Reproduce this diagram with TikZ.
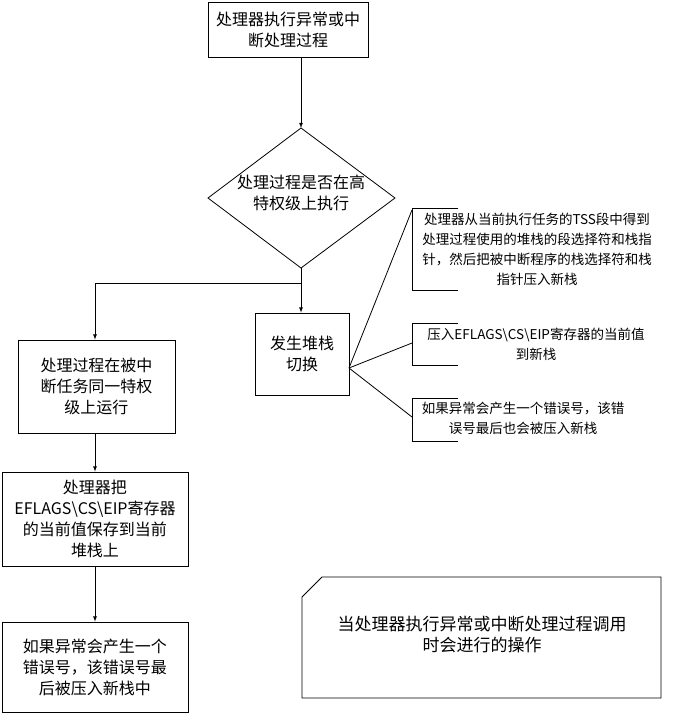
\documentclass[tikz,border=0pt]{standalone}
\usepackage{fontspec}
\setmainfont{Liberation Serif}
\newfontfamily\cjk{Noto Sans CJK SC}
\begin{document}
\begin{tikzpicture}[x=1pt,y=-1pt,
  box/.style={draw,thick,align=center,font=\cjk\fontsize{16}{21}\selectfont,inner sep=0pt},
  note/.style={align=center,font=\cjk\fontsize{13.5}{20}\selectfont,inner sep=0pt},
  arr/.style={->,>=latex,thick},
  ln/.style={thick}]
\useasboundingbox (0,0) rectangle (687,718);
\node[box,minimum width=160,minimum height=55] (top) at (288,29.5) {处理器执行异常或中\\断处理过程};
\node[box,draw=none] (dtext) at (301,193) {处理过程是否在高\\特权级上执行};
\draw[thick] (301,128) coordinate (dtop) -- (395,198) -- (301,268) coordinate (dbot) -- (208,198) -- cycle;
\node[box,minimum width=157,minimum height=93] (same) at (96.5,386.5) {处理过程在被中\\断任务同一特权\\级上运行};
\node[box,minimum width=186,minimum height=94] (save) at (95,519) {处理器把\\EFLAGS\textbackslash CS\textbackslash EIP寄存器\\的当前值保存到当前\\堆栈上};
\node[box,minimum width=186,minimum height=90] (err) at (95,667) {如果异常会产生一个\\错误号，该错误号最\\后被压入新栈中};
\node[box,minimum width=94,minimum height=82] (sw) at (302,354) {发生堆栈\\切换};
\coordinate (j) at (301,283);
\coordinate (jl) at (95,283);
\draw[arr] (top.south -| dtop) -- (dtop);
\draw[ln] (dbot) -- (j) -- (jl);
\draw[arr] (j) -- (sw.north -| j);
\draw[arr] (jl) -- (same.north -| jl);
\draw[arr] (same.south -| jl) -- (save.north -| jl);
\draw[arr] (save.south -| jl) -- (err.north -| jl);
% brackets
\coordinate (s) at (349,368);
\coordinate (b1) at (412,210);
\coordinate (b2) at (412,343);
\coordinate (b3) at (412,417);
\draw[ln] (458,208) -- (412,208) -- (412,290) -- (458,290);
\draw[ln] (458,323) -- (412,323) -- (412,365) -- (458,365);
\draw[ln] (458,398) -- (412,398) -- (412,441) -- (458,441);
\draw[ln] (s) -- (b1); \draw[ln] (s) -- (b2); \draw[ln] (s) -- (b3);
\node[note] (t1) at (537,249) {处理器从当前执行任务的TSS段中得到\\处理过程使用的堆栈的段选择符和栈指\\针，然后把被中断程序的栈选择符和栈\\指针压入新栈};
\node[note] (t2) at (536,344) {压入EFLAGS\textbackslash CS\textbackslash EIP寄存器的当前值\\到新栈};
\node[note] (t3) at (523,418) {如果异常会产生一个错误号，该错\\误号最后也会被压入新栈};
\draw[thick] (322,577) -- (661,577) -- (661,698) -- (302,698) -- (302,597) -- cycle;
\node[note,font=\cjk\fontsize{17}{21}\selectfont] (n) at (482,635) {当处理器执行异常或中断处理过程调用\\时会进行的操作};
\end{tikzpicture}
\end{document}
